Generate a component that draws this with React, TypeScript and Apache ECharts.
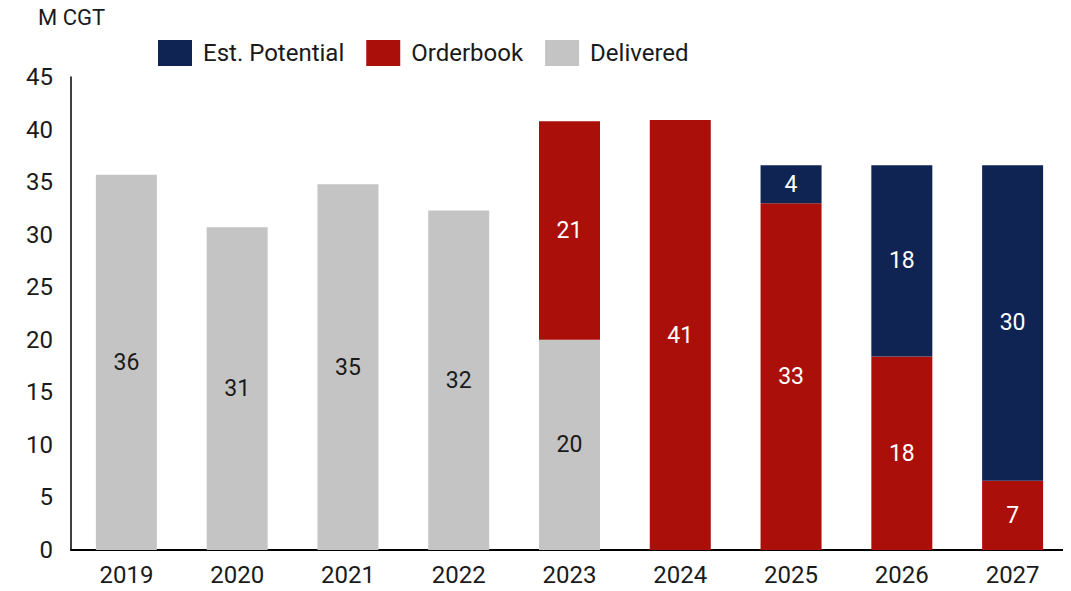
import React, { useEffect, useRef } from "react";
import * as echarts from "echarts";

const categories = ["2019", "2020", "2021", "2022", "2023", "2024", "2025", "2026", "2027"];
const delivered = [35.7, 30.7, 34.8, 32.3, 20.0, null, null, null, null];
const orderbook = [null, null, null, null, 20.8, 40.9, 33.0, 18.4, 6.6];
const estPotential = [null, null, null, null, null, null, 3.6, 18.2, 30.0];
const unitLabel = "M CGT";

const FONT = "Roboto";

export default function App() {
  const ref = useRef<HTMLDivElement>(null);
  useEffect(() => {
    const chart = echarts.init(ref.current!, null, { renderer: "svg" });
    const label = (color: string) => ({
      show: true,
      position: "inside",
      color,
      fontFamily: FONT,
      fontSize: 23,
      formatter: (p: any) => String(Math.round(p.value)),
    });
    chart.setOption({
      animation: false,
      textStyle: { fontFamily: FONT },
      graphic: [
        {
          type: "text",
          left: 38,
          top: 6,
          style: { text: unitLabel, fontFamily: FONT, fontSize: 22, fill: "#1a1a1a" },
        },
      ],
      legend: {
        left: 153,
        top: 35,
        itemWidth: 34,
        itemHeight: 26,
        itemGap: 22,
        data: ["Est. Potential", "Orderbook", "Delivered"],
        textStyle: { fontFamily: FONT, fontSize: 24, color: "#1a1a1a", padding: [0, 0, 0, 6] },
        icon: "rect",
      },
      grid: { left: 71, right: 3, top: 77, bottom: 41, containLabel: false },
      xAxis: {
        type: "category",
        data: categories,
        axisLine: { show: true, lineStyle: { color: "#000", width: 2 } },
        axisTick: { show: false },
        axisLabel: { color: "#1a1a1a", fontFamily: FONT, fontSize: 24, margin: 13 },
      },
      yAxis: {
        type: "value",
        min: 0,
        max: 45,
        interval: 5,
        splitLine: { show: false },
        axisLine: { show: true, lineStyle: { color: "#000", width: 1.5 } },
        axisTick: { show: false },
        axisLabel: { color: "#1a1a1a", fontFamily: FONT, fontSize: 24, margin: 18 },
      },
      series: [
        {
          name: "Delivered",
          type: "bar",
          stack: "total",
          barWidth: 61,
          data: delivered,
          itemStyle: { color: "#c4c4c4" },
          label: label("#1a1a1a"),
        },
        {
          name: "Orderbook",
          type: "bar",
          stack: "total",
          barWidth: 61,
          data: orderbook,
          itemStyle: { color: "#ab0f0a" },
          label: label("#ffffff"),
        },
        {
          name: "Est. Potential",
          type: "bar",
          stack: "total",
          barWidth: 61,
          data: estPotential,
          itemStyle: { color: "#0f2453" },
          label: label("#ffffff"),
        },
      ],
    });
    return () => chart.dispose();
  }, []);
  return <div ref={ref} style={{ width: 1071, height: 591, margin: -8 }} />;
}
